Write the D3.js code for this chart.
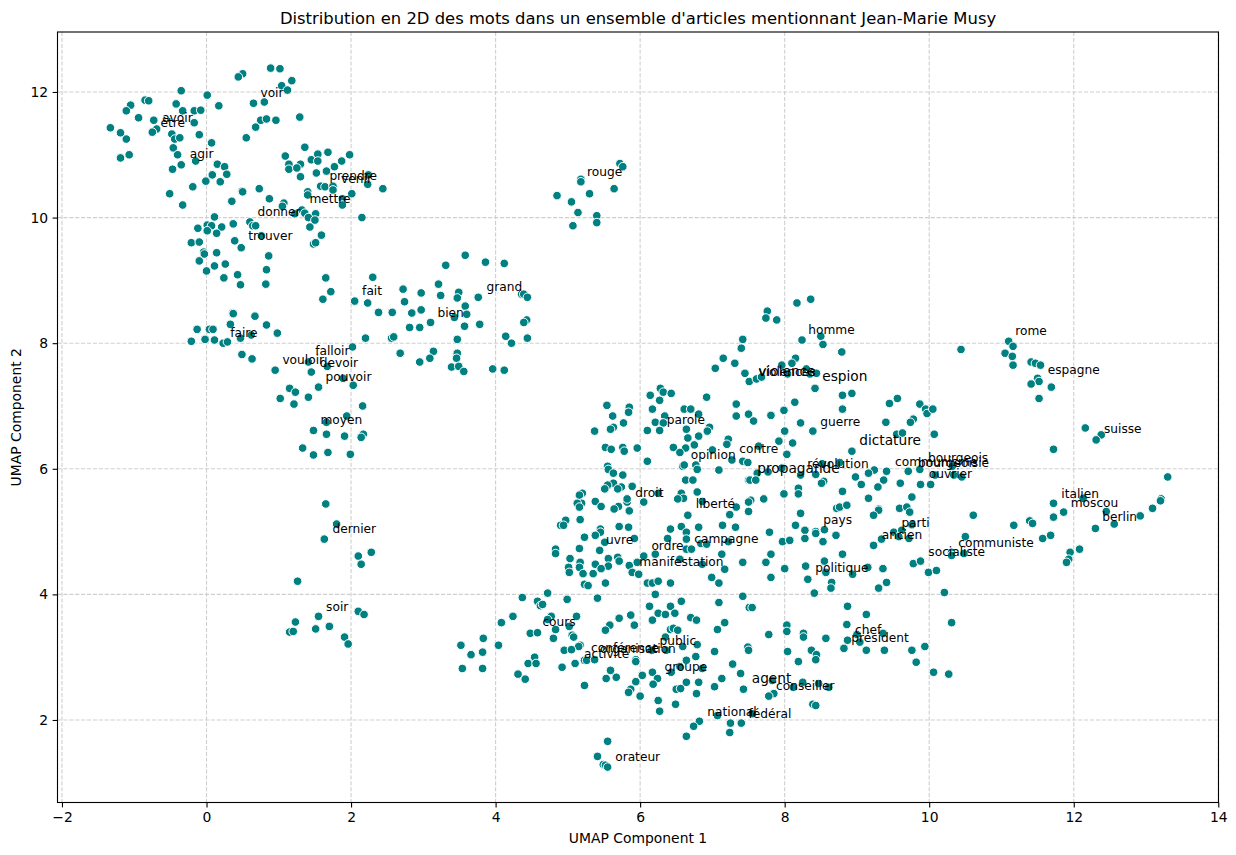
<!DOCTYPE html>
<html lang="fr">
<head>
<meta charset="utf-8">
<title>Distribution en 2D des mots</title>
<script src="https://cdn.jsdelivr.net/npm/d3@7/dist/d3.min.js"></script>
<style>
  html, body { margin: 0; padding: 0; background: #fff; }
  svg { display: block; }
  text { font-family: "DejaVu Sans", sans-serif; fill: #000; }
</style>
</head>
<body>
<svg id="chart" width="1236" height="855"></svg>
<script>
// UMAP coordinates of the words, grouped by neighbourhood on the map: [component 1, component 2]
const verbCluster = [
[.887,12.38],[1.016,12.37],[.50,12.29],[.44,12.24],[1.18,12.18],[1.04,12.10],[1.12,12.03],[-.35,12.02],[.01,11.95],[-.85,11.87],[-.80,11.86],[-1.05,11.79],[-.42,11.81],[.17,11.78],[.65,11.82],[.80,11.84],[-1.11,11.70],[-.33,11.70],[-.17,11.70],[-.08,11.71],[1.29,11.60],[-.94,11.59],[-.73,11.55],[.75,11.55],[.83,11.57],[.96,11.55],[-.17,11.51],[-1.33,11.43],[-.69,11.41],[-.75,11.36],[.68,11.44],[-1.19,11.35],[-.48,11.33],[-1.11,11.25],[-.44,11.25],[-.37,11.27],[-.10,11.32],[.55,11.27],[.07,11.19],[1.36,11.12],[-.46,11.11],[1.54,11.01],[1.68,11.04],[1.98,11.00],[1.09,10.98],[-1.19,10.95],[-1.07,11.00],[-.40,11.00],[1.45,10.92],[1.54,10.90],[1.87,10.90],[-.15,10.90],[-.35,10.84],[-.47,10.77],[.15,10.85],[.25,10.81],[1.14,10.85],[1.14,10.77],[1.30,10.85],[1.25,10.79],[1.77,10.81],[1.66,10.74],[1.52,10.71],[.28,10.69],[.08,10.68],[-.01,10.58],[.19,10.57],[1.30,10.65],[2.24,10.68],[2.23,10.53],[-.19,10.49],[1.58,10.50],[1.64,10.49],[1.75,10.50],[1.75,10.44],[2.44,10.46],[-.51,10.38],[.49,10.42],[.50,10.41],[.73,10.46],[1.40,10.41],[1.40,10.36],[2.01,10.38],[.87,10.30],[.35,10.26],[1.88,10.30],[1.88,10.20],[-.33,10.20],[1.07,10.23],[1.05,10.18],[1.32,10.12],[1.36,10.07],[1.51,10.06],[1.22,10.06],[1.41,10.00],[1.50,9.96],[2.15,10.00],[.11,10.01],[.01,9.88],[.07,9.87],[-.12,9.83],[.01,9.79],[.21,9.85],[.14,9.75],[.37,9.90],[.60,9.93],[.64,9.87],[.68,9.87],[1.43,9.85],[1.59,9.72],[.76,9.71],[.39,9.63],[-.21,9.60],[-.10,9.61],[1.48,9.58],[1.51,9.60],[.48,9.52],[-.04,9.45],[-.03,9.42],[.14,9.44],[.86,9.39],[-.10,9.31],[.26,9.26],[.11,9.23],[0,9.15],[.83,9.17],[.43,9.09],[.24,9.04],[1.65,9.04],[2.30,9.05],[.47,8.93],[.82,8.94],[1.72,8.82],[1.61,8.70],[2.05,8.67],[2.23,8.64]
];
const adjectiveCluster = [
[2.72,8.86],[2.74,8.66],[3.58,9.40],[3.31,9.24],[3.86,9.29],[4.12,9.27],[3.21,8.94],[2.97,8.80],[3.49,8.81],[3.24,8.76],[3.47,8.72],[3.76,8.73],[4.36,8.78],[4.39,8.78],[4.44,8.73],[3.58,8.59],[2.38,8.49],[2.57,8.49],[2.84,8.48],[2.97,8.53],[3.43,8.41],[3.60,8.46],[3.10,8.33],[2.81,8.25],[2.95,8.25],[3.57,8.27],[3.78,8.30],[4.43,8.37],[4.39,8.33],[4.14,8.11],[4.44,8.08],[3.47,8.06],[2.20,8.08],[2.56,8.08],[2.59,8.10],[4.22,8.00],[2.02,7.94],[2.68,7.84],[3.14,7.87],[3.47,7.84],[3.46,7.76],[3.09,7.76],[2.95,7.70],[3.39,7.62],[3.49,7.63],[3.56,7.55],[3.96,7.59],[4.12,7.57]
];
const modalCluster = [
[.36,8.48],[.37,8.47],[.67,8.43],[.83,8.29],[.33,8.30],[-.13,8.22],[.04,8.22],[.09,8.22],[.98,8.16],[.62,8.13],[.47,8.08],[-.21,8.03],[-.02,8.06],[.11,8.05],[.23,8.00],[.29,8.02],[.49,7.82],[.63,7.75],[.95,7.57],[1.41,7.70],[1.67,7.63],[1.45,7.54],[1.89,7.44],[2.03,7.33],[1.55,7.30],[1.15,7.28],[1.23,7.22],[1.41,7.14],[1.02,7.12],[1.21,7.03],[2.16,7.00],[1.94,6.84],[1.66,6.74],[1.48,6.61],[1.66,6.55],[1.91,6.52],[2.17,6.55],[2.14,6.50],[1.33,6.33],[1.68,6.26],[1.48,6.22],[1.99,6.23]
];
const timeCluster = [
[1.65,5.44],[1.80,5.12],[1.63,4.88],[2.28,4.67],[2.10,4.61],[2.14,4.48],[1.26,4.21],[2.10,3.73],[2.18,3.68],[1.55,3.65],[1.23,3.56],[1.70,3.49],[1.51,3.45],[1.15,3.40],[1.20,3.41],[1.91,3.32],[1.96,3.21]
];
const colourCluster = [
[5.72,10.86],[5.76,10.81],[5.18,10.61],[5.18,10.57],[5.64,10.46],[5.30,10.38],[4.85,10.35],[5.05,10.25],[5.14,10.08],[5.40,10.03],[5.40,9.92],[5.07,9.87]
];
const opinionCluster = [
[6.92,7.14],[7.42,8.06],[7.40,7.92],[7.15,7.76],[7.31,7.68],[7.04,7.60],[7.45,7.52],[7.51,7.39],[6.28,7.28],[6.32,7.22],[6.43,7.20],[6.14,7.17],[6.27,7.09],[5.54,7.01],[5.85,6.98],[5.84,6.90],[6.17,6.95],[6.61,6.95],[6.70,6.95],[7.33,7.03],[6.81,6.87],[7.33,6.84],[7.50,6.87],[5.62,6.84],[6.34,6.84],[5.77,6.73],[6.21,6.74],[6.32,6.73],[5.63,6.66],[5.59,6.63],[5.37,6.60],[6.10,6.61],[6.27,6.61],[6.64,6.63],[6.96,6.66],[6.93,6.60],[6.81,6.52],[6.66,6.49],[7.22,6.47],[7.20,6.39],[6.75,6.38],[6.46,6.34],[6.63,6.33],[6.55,6.26],[5.52,6.34],[5.60,6.31],[5.76,6.34],[5.78,6.28],[5.96,6.33],[7.00,6.30],[6.10,6.12],[7.27,6.14],[7.42,6.12],[7.49,6.10],[6.59,6.04],[6.61,6.06],[6.77,6.06],[6.79,5.99],[7.09,5.98],[5.55,6.04],[5.56,5.99],[5.63,5.93],[5.76,5.90],[6.63,5.82],[6.73,5.82],[7.50,5.82],[5.63,5.77],[5.55,5.74],[5.51,5.68],[5.74,5.71],[5.69,5.68],[5.89,5.72],[5.20,5.61],[5.16,5.58],[6.57,5.61],[6.79,5.63],[6.25,5.61],[6.60,5.53],[6.52,5.52],[5.38,5.48],[5.19,5.45],[5.13,5.45],[5.82,5.47],[5.82,5.52],[6.05,5.47],[5.46,5.40],[5.70,5.40],[5.64,5.36],[5.16,5.39],[5.85,5.33],[6.86,5.48],[7.33,5.39],[7.50,5.47]
];
const meetingCluster = [
[6.66,5.26],[7.24,5.27],[7.50,5.32],[4.97,5.18],[4.90,5.10],[4.94,5.10],[5.17,5.19],[5.71,5.08],[5.84,5.07],[6.42,5.04],[6.57,5.08],[6.81,5.07],[6.64,4.99],[7.14,5.10],[7.32,5.07],[5.45,5.04],[5.45,4.99],[5.38,4.94],[5.23,4.91],[5.92,4.89],[6.38,4.89],[6.64,4.88],[5.51,4.83],[6.84,4.81],[6.92,4.80],[7.22,4.84],[4.83,4.72],[4.83,4.65],[5.16,4.73],[5.44,4.70],[6.64,4.72],[6.71,4.72],[7.13,4.64],[6.21,4.64],[6.05,4.61],[5.03,4.57],[5.56,4.57],[5.69,4.59],[5.71,4.53],[6.55,4.56],[7.42,4.51],[5.17,4.51],[5.16,4.43],[5.38,4.48],[5.56,4.45],[5.46,4.41],[5.85,4.46],[5.96,4.51],[5.01,4.43],[5.02,4.35],[5.21,4.33],[5.35,4.33],[5.89,4.35],[5.98,4.32],[6.86,4.48],[7.17,4.40],[6.99,4.27],[6.10,4.18],[6.17,4.18],[6.25,4.21],[6.42,4.18],[7.09,4.18],[5.23,4.16],[5.28,4.14],[5.52,4.18],[4.72,4.02],[4.37,3.95],[4.99,3.92],[5.41,3.94],[6.21,4.00],[7.42,3.97],[4.58,3.89],[4.62,3.82],[4.65,3.84],[7.09,3.87],[6.57,3.89],[6.13,3.81],[6.42,3.81],[7.51,3.79],[6.25,3.70],[6.35,3.68],[6.48,3.70],[5.87,3.67],[4.24,3.65],[4.77,3.65],[5.12,3.65],[5.71,3.62],[6.70,3.63],[6.78,3.59],[6.17,3.59],[4.08,3.55],[7.17,3.55],[4.72,3.60],[5.02,3.49],[5.58,3.51],[5.92,3.51],[5.52,3.43],[7.07,3.44],[6.42,3.44],[6.46,3.46],[6.52,3.43],[4.83,3.44],[4.48,3.38],[4.58,3.39],[6.35,3.32],[5.06,3.35],[5.08,3.32],[3.83,3.30],[4.80,3.30],[3.52,3.19],[4.04,3.19],[5.17,3.19],[5.15,3.17],[4.95,3.11],[5.05,3.12],[6.59,3.17],[6.79,3.20],[7.49,3.16],[7.50,3.11],[3.82,3.08],[3.66,3.04],[7.03,3.09],[6.16,3.11],[6.36,3.11],[6.77,3.01],[4.54,3.00],[4.45,2.90],[4.56,2.90],[5.23,2.95],[5.26,2.95],[5.37,2.96],[5.10,2.90],[5.94,2.96],[5.94,2.93],[6.64,2.95],[4.92,2.84],[3.54,2.82],[3.82,2.82],[7.28,2.89],[6.55,2.85],[6.86,2.82],[5.59,2.79],[6.17,2.76],[6.03,2.71],[6.43,2.76],[7.39,2.74],[4.31,2.73],[4.41,2.65],[5.53,2.66],[5.67,2.68],[6.24,2.66],[5.94,2.61],[6.64,2.60],[6.81,2.60],[7.13,2.66],[6.18,2.57],[5.23,2.55],[7.03,2.53],[5.87,2.49],[5.84,2.44],[6.50,2.49],[6.56,2.50],[7.43,2.49],[6.78,2.42],[6.00,2.38],[6.25,2.31],[6.49,2.25],[6.27,2.14],[7.07,2.07],[6.82,1.98],[6.74,1.90],[7.25,1.95],[7.40,1.95],[7.24,1.80],[6.64,1.74],[5.55,1.66],[5.41,1.42],[5.49,1.29],[5.52,1.28],[5.55,1.25]
];
const politicsCluster = [
[8.36,8.70],[8.17,8.64],[7.76,8.51],[7.74,8.40],[7.89,8.37],[8.24,8.05],[8.50,8.11],[8.53,7.98],[8.79,7.86],[10.44,7.90],[8.15,7.76],[8.10,7.68],[7.96,7.65],[7.61,7.43],[7.68,7.46],[8.04,7.51],[8.30,7.59],[8.35,7.51],[8.44,7.52],[8.42,7.28],[8.80,7.17],[8.93,7.20],[9.45,7.04],[9.56,7.12],[8.14,7.06],[7.99,6.93],[9.87,7.03],[9.95,6.95],[9.97,6.88],[10.05,6.95],[8.80,6.95],[7.81,6.85],[7.57,6.76],[8.22,6.73],[9.40,6.74],[9.78,6.79],[9.74,6.74],[8.39,6.60],[8.00,6.60],[7.92,6.44],[8.11,6.41],[7.64,6.36],[8.03,6.23],[9.55,6.55],[9.63,6.57],[10.07,6.55],[8.93,6.28],[8.76,6.10],[8.52,6.08],[7.96,6.01],[8.22,5.90],[8.43,5.91],[7.62,5.93],[7.77,5.95],[9.24,5.98],[9.16,5.93],[9.41,5.96],[9.71,5.96],[9.87,5.99],[8.98,5.87],[9.37,5.82],[9.06,5.75],[9.29,5.71],[9.60,5.77],[9.88,5.75],[10.02,5.75],[8.54,5.80],[8.51,5.77],[7.52,5.82],[7.60,5.82],[8.19,5.69],[8.19,5.60],[7.99,5.60],[8.80,5.64],[7.53,5.50],[7.50,5.47],[7.71,5.52],[9.16,5.53],[9.76,5.55],[10.32,6.04],[10.34,5.90],[10.45,5.87],[10.08,5.90],[8.72,5.37],[8.76,5.39],[8.86,5.42],[9.30,5.36],[9.59,5.37],[9.69,5.39],[8.22,5.29],[9.30,5.34],[9.23,5.26],[9.73,5.31],[10.61,5.26],[8.15,5.10],[7.79,4.99],[8.28,5.02],[8.43,5.00],[8.43,4.97],[8.55,5.03],[8.71,4.94],[7.97,4.84],[8.07,4.86],[8.28,4.89],[8.53,4.84],[9.76,5.11],[9.51,4.99],[9.62,5.02],[9.58,4.92],[9.72,4.89],[9.34,4.88],[9.23,4.78],[10.50,4.92],[7.81,4.64],[8.80,4.64],[10.31,4.67],[10.31,4.62],[10.48,4.65],[7.74,4.51],[8.55,4.53],[9.78,4.49],[9.88,4.53],[8.00,4.41],[8.29,4.45],[9.15,4.43],[9.36,4.41],[8.57,4.35],[8.94,4.32],[9.99,4.35],[10.10,4.38],[7.81,4.27],[8.32,4.24],[9.41,4.19],[8.65,4.19],[8.64,4.10],[9.30,4.10],[8.41,4.02],[10.21,4.03]
];
const institutionCluster = [
[7.55,3.79],[8.87,3.81],[9.13,3.68],[10.31,3.55],[8.03,3.51],[8.03,3.41],[8.86,3.52],[7.78,3.36],[8.26,3.38],[8.26,3.32],[8.57,3.30],[9.00,3.36],[9.36,3.38],[8.87,3.27],[9.04,3.24],[8.82,3.14],[8.04,3.09],[8.37,3.11],[9.13,3.11],[9.38,3.11],[9.76,3.11],[9.94,3.17],[8.44,3.04],[8.43,2.96],[8.19,2.93],[9.82,2.92],[10.06,2.76],[10.27,2.73],[7.83,2.63],[8.25,2.60],[8.47,2.58],[8.12,2.52],[8.61,2.52],[7.85,2.42],[7.78,2.38],[8.39,2.25],[8.43,2.23],[7.55,2.10]
];
const countryCluster = [
[11.10,8.03],[11.16,7.95],[11.05,7.84],[11.15,7.79],[11.16,7.65],[11.41,7.70],[11.47,7.68],[11.54,7.65],[11.50,7.44],[11.52,7.39],[11.41,7.35],[11.69,7.30],[11.52,7.12],[12.16,6.65],[12.38,6.54],[12.31,6.46],[11.72,6.31],[13.30,5.87],[13.21,5.52],[13.20,5.49],[13.09,5.37],[12.92,5.25],[12.13,5.53],[11.72,5.45],[12.45,5.32],[11.86,5.31],[11.72,5.23],[12.56,5.12],[12.30,5.05],[11.39,5.17],[11.43,5.13],[11.17,5.10],[11.57,4.89],[11.68,4.94],[12.08,4.72],[11.95,4.67],[11.93,4.56],[11.90,4.51]
];

// Annotated words and the map position of each annotation
const labelWords = ["orateur","voir","avoir","être","agir","prendre","venir","mettre","donner","trouver","fait","faire","falloir","vouloir","devoir","pouvoir","moyen","dernier","soir","bien","grand","rouge","parole","opinion","droit","liberté","contre","homme","violence","violences","espion","guerre","dictature","révolution","propagande","communisme","bourgeoisie","bourgeois","ouvrier","uvre","ordre","campagne","manifestation","cours","public","conférence","organisation","activité","groupe","national","pays","parti","ancien","communiste","socialiste","politique","chef","président","agent","conseiller","fédéral","rome","espagne","suisse","italien","moscou","berlin"];
const labelX = [5.655,.746,-.614,-.638,-.231,1.70,1.862,1.424,.705,.576,2.153,.327,1.503,1.05,1.568,1.646,1.576,1.743,1.655,3.196,3.874,5.265,6.368,6.701,5.934,6.77,7.373,8.327,7.637,7.637,8.521,8.493,9.033,8.313,7.622,9.527,9.845,9.984,9.994,5.529,6.156,6.75,5.989,4.648,6.267,5.321,5.446,5.224,6.336,6.93,8.535,9.615,9.343,10.403,9.988,8.424,8.973,8.923,7.545,7.881,7.498,11.19,11.639,12.418,11.828,11.958,12.395];
const labelY = [1.35,11.925,11.52,11.45,10.945,10.60,10.55,10.24,10.03,9.65,8.77,8.10,7.81,7.67,7.62,7.39,6.72,4.98,3.74,8.42,8.83,10.66,6.72,6.15,5.555,5.37,6.25,8.15,7.48,7.48,7.39,6.686,6.38,6.01,5.93,6.05,6.035,6.10,5.858,4.807,4.71,4.82,4.447,3.50,3.20,3.083,3.07,2.987,2.775,2.064,5.12,5.073,4.887,4.76,4.616,4.352,3.37,3.242,2.594,2.478,2.037,8.135,7.505,6.565,5.535,5.397,5.164];
const frequentWords = ["espion","dictature","propagande","agent","violence"];

const xTicks = [-2,0,2,4,6,8,10,12,14];
const yTicks = [2,4,6,8,10,12];

const chartTitle = "Distribution en 2D des mots dans un ensemble d'articles mentionnant Jean-Marie Musy";
const xTitle = "UMAP Component 1";
const yTitle = "UMAP Component 2";

const points = [verbCluster, adjectiveCluster, modalCluster, timeCluster, colourCluster,
  opinionCluster, meetingCluster, politicsCluster, institutionCluster, countryCluster].flat();
const labels = labelWords.map((word, i) => ({ word, x: labelX[i], y: labelY[i] }));

const frame = { left: 57.5, right: 1218.5, top: 32, bottom: 802.5 };
const x = d3.scaleLinear().domain([-2.062, 14.003]).range([frame.left, frame.right]);
const y = d3.scaleLinear().domain([0.686, 12.955]).range([frame.bottom, frame.top]);

const svg = d3.select("#chart");

// Dashed grid behind the markers
const grid = svg.append("g").attr("stroke", "#cfcfcf").attr("stroke-width", 1.1).attr("stroke-dasharray", "4.1 1.8");
grid.selectAll(".vgrid").data(xTicks).join("line")
  .attr("x1", d => x(d)).attr("x2", d => x(d)).attr("y1", frame.top).attr("y2", frame.bottom);
grid.selectAll(".hgrid").data(yTicks).join("line")
  .attr("y1", d => y(d)).attr("y2", d => y(d)).attr("x1", frame.left).attr("x2", frame.right);

// Word markers
svg.append("g").selectAll("circle").data(points).join("circle")
  .attr("cx", d => x(d[0])).attr("cy", d => y(d[1]))
  .attr("r", 4.3)
  .attr("fill", "#008080")
  .attr("stroke", "#fff")
  .attr("stroke-width", 1);

// Word annotations
svg.append("g").selectAll("text").data(labels).join("text")
  .attr("x", d => x(d.x)).attr("y", d => y(d.y))
  .attr("font-size", d => frequentWords.includes(d.word) ? 13.7 : 12.2)
  .text(d => d.word);

// Axes
const xAxis = svg.append("g").attr("transform", `translate(0,${frame.bottom})`)
  .call(d3.axisBottom(x).tickValues(xTicks).tickSize(4.9).tickPadding(4.5).tickSizeOuter(0));
const yAxis = svg.append("g").attr("transform", `translate(${frame.left},0)`)
  .call(d3.axisLeft(y).tickValues(yTicks).tickSize(4.9).tickPadding(4.5).tickSizeOuter(0));
[xAxis, yAxis].forEach(axis => {
  axis.select(".domain").remove();
  axis.selectAll("line").attr("stroke", "#000").attr("stroke-width", 1.1);
  axis.selectAll("text").attr("font-size", 13.9).attr("font-family", '"DejaVu Sans", sans-serif').attr("fill", "#000");
});

// Frame around the plotting area
svg.append("rect")
  .attr("x", frame.left).attr("y", frame.top)
  .attr("width", frame.right - frame.left).attr("height", frame.bottom - frame.top)
  .attr("fill", "none").attr("stroke", "#000").attr("stroke-width", 1.1);

// Titles
svg.append("text").attr("x", (frame.left + frame.right) / 2).attr("y", 24)
  .attr("text-anchor", "middle").attr("font-size", 16.4).text(chartTitle);
svg.append("text").attr("x", (frame.left + frame.right) / 2).attr("y", 843)
  .attr("text-anchor", "middle").attr("font-size", 13.9).text(xTitle);
svg.append("text").attr("transform", `translate(21,${(frame.top + frame.bottom) / 2}) rotate(-90)`)
  .attr("text-anchor", "middle").attr("font-size", 13.9).text(yTitle);
</script>
</body>
</html>
